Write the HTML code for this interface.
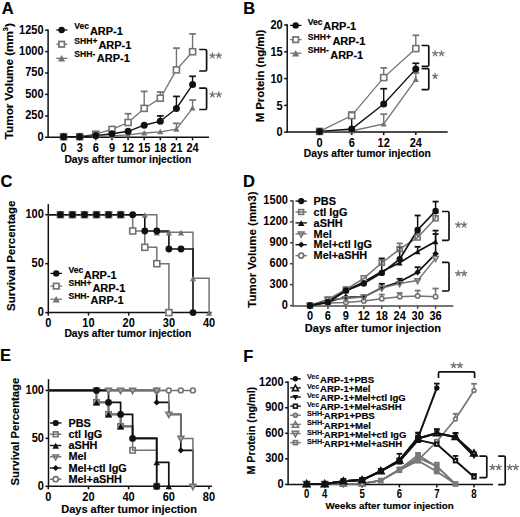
<!DOCTYPE html>
<html><head><meta charset="utf-8"><style>
html,body{margin:0;padding:0;background:#fff;}
svg{display:block;}
text{font-family:"Liberation Sans", sans-serif;}
</style></head><body>
<svg width="520" height="517" viewBox="0 0 520 517">
<rect width="520" height="517" fill="#fff"/>
<text transform="translate(1.70 13.80)" font-size="16.5" font-weight="bold" fill="#000" stroke="#000" stroke-width="0.15">A</text>
<line x1="48.1" y1="29.45" x2="48.1" y2="138.05" stroke="#111" stroke-width="1.5"/>
<line x1="45.1" y1="137.3" x2="48.1" y2="137.3" stroke="#111" stroke-width="1.5"/>
<text transform="translate(43.60 140.60) scale(0.92 1)" font-size="12" text-anchor="end" font-weight="bold" fill="#000">0</text>
<line x1="45.1" y1="116.0" x2="48.1" y2="116.0" stroke="#111" stroke-width="1.5"/>
<text transform="translate(43.60 119.30) scale(0.92 1)" font-size="12" text-anchor="end" font-weight="bold" fill="#000">250</text>
<line x1="45.1" y1="94.4" x2="48.1" y2="94.4" stroke="#111" stroke-width="1.5"/>
<text transform="translate(43.60 97.70) scale(0.92 1)" font-size="12" text-anchor="end" font-weight="bold" fill="#000">500</text>
<line x1="45.1" y1="73.0" x2="48.1" y2="73.0" stroke="#111" stroke-width="1.5"/>
<text transform="translate(43.60 76.30) scale(0.92 1)" font-size="12" text-anchor="end" font-weight="bold" fill="#000">750</text>
<line x1="45.1" y1="51.6" x2="48.1" y2="51.6" stroke="#111" stroke-width="1.5"/>
<text transform="translate(43.60 54.90) scale(0.92 1)" font-size="12" text-anchor="end" font-weight="bold" fill="#000">1000</text>
<line x1="45.1" y1="30.2" x2="48.1" y2="30.2" stroke="#111" stroke-width="1.5"/>
<text transform="translate(43.60 33.50) scale(0.92 1)" font-size="12" text-anchor="end" font-weight="bold" fill="#000">1250</text>
<line x1="48.1" y1="137.3" x2="209" y2="137.3" stroke="#111" stroke-width="1.5"/>
<line x1="63.6" y1="137.3" x2="63.6" y2="140.3" stroke="#111" stroke-width="1.5"/>
<text transform="translate(63.60 151.60) scale(0.92 1)" font-size="12" text-anchor="middle" font-weight="bold" fill="#000">0</text>
<line x1="79.72" y1="137.3" x2="79.72" y2="140.3" stroke="#111" stroke-width="1.5"/>
<text transform="translate(79.72 151.60) scale(0.92 1)" font-size="12" text-anchor="middle" font-weight="bold" fill="#000">3</text>
<line x1="95.84" y1="137.3" x2="95.84" y2="140.3" stroke="#111" stroke-width="1.5"/>
<text transform="translate(95.84 151.60) scale(0.92 1)" font-size="12" text-anchor="middle" font-weight="bold" fill="#000">6</text>
<line x1="111.96000000000001" y1="137.3" x2="111.96000000000001" y2="140.3" stroke="#111" stroke-width="1.5"/>
<text transform="translate(111.96 151.60) scale(0.92 1)" font-size="12" text-anchor="middle" font-weight="bold" fill="#000">9</text>
<line x1="128.08" y1="137.3" x2="128.08" y2="140.3" stroke="#111" stroke-width="1.5"/>
<text transform="translate(128.08 151.60) scale(0.92 1)" font-size="12" text-anchor="middle" font-weight="bold" fill="#000">12</text>
<line x1="144.20000000000002" y1="137.3" x2="144.20000000000002" y2="140.3" stroke="#111" stroke-width="1.5"/>
<text transform="translate(144.20 151.60) scale(0.92 1)" font-size="12" text-anchor="middle" font-weight="bold" fill="#000">15</text>
<line x1="160.32" y1="137.3" x2="160.32" y2="140.3" stroke="#111" stroke-width="1.5"/>
<text transform="translate(160.32 151.60) scale(0.92 1)" font-size="12" text-anchor="middle" font-weight="bold" fill="#000">18</text>
<line x1="176.44" y1="137.3" x2="176.44" y2="140.3" stroke="#111" stroke-width="1.5"/>
<text transform="translate(176.44 151.60) scale(0.92 1)" font-size="12" text-anchor="middle" font-weight="bold" fill="#000">21</text>
<line x1="192.56" y1="137.3" x2="192.56" y2="140.3" stroke="#111" stroke-width="1.5"/>
<text transform="translate(192.56 151.60) scale(0.92 1)" font-size="12" text-anchor="middle" font-weight="bold" fill="#000">24</text>
<text transform="translate(127.90 162.90)" font-size="10.3" text-anchor="middle" font-weight="bold" fill="#000" stroke="#000" stroke-width="0.15">Days after tumor injection</text>
<text transform="translate(12.90 81.10) rotate(-90)" font-size="11.7" text-anchor="middle" font-weight="bold" fill="#000" stroke="#000" stroke-width="0.15">Tumor Volume (mm<tspan font-size="7.5" dy="-5.2">3</tspan><tspan dy="5.2">)</tspan></text>
<line x1="128.08" y1="122.5" x2="128.08" y2="113.7" stroke="#737373" stroke-width="1.4"/>
<line x1="124.68" y1="113.7" x2="131.48000000000002" y2="113.7" stroke="#737373" stroke-width="1.7"/>
<line x1="144.20000000000002" y1="108.4" x2="144.20000000000002" y2="91.4" stroke="#737373" stroke-width="1.4"/>
<line x1="140.8" y1="91.4" x2="147.60000000000002" y2="91.4" stroke="#737373" stroke-width="1.7"/>
<line x1="160.32" y1="98.2" x2="160.32" y2="92.0" stroke="#737373" stroke-width="1.4"/>
<line x1="156.92" y1="92.0" x2="163.72" y2="92.0" stroke="#737373" stroke-width="1.7"/>
<line x1="176.44" y1="69.9" x2="176.44" y2="48.1" stroke="#737373" stroke-width="1.4"/>
<line x1="173.04" y1="48.1" x2="179.84" y2="48.1" stroke="#737373" stroke-width="1.7"/>
<line x1="192.56" y1="51.7" x2="192.56" y2="33.9" stroke="#737373" stroke-width="1.4"/>
<line x1="189.16" y1="33.9" x2="195.96" y2="33.9" stroke="#737373" stroke-width="1.7"/>
<line x1="176.44" y1="129.2" x2="176.44" y2="123.3" stroke="#737373" stroke-width="1.4"/>
<line x1="173.04" y1="123.3" x2="179.84" y2="123.3" stroke="#737373" stroke-width="1.7"/>
<line x1="192.56" y1="108.1" x2="192.56" y2="100.0" stroke="#737373" stroke-width="1.4"/>
<line x1="189.16" y1="100.0" x2="195.96" y2="100.0" stroke="#737373" stroke-width="1.7"/>
<line x1="160.32" y1="121.2" x2="160.32" y2="115.9" stroke="#111" stroke-width="1.4"/>
<line x1="156.92" y1="115.9" x2="163.72" y2="115.9" stroke="#111" stroke-width="1.7"/>
<line x1="176.44" y1="108.5" x2="176.44" y2="96.4" stroke="#111" stroke-width="1.4"/>
<line x1="173.04" y1="96.4" x2="179.84" y2="96.4" stroke="#111" stroke-width="1.7"/>
<line x1="192.56" y1="84.6" x2="192.56" y2="76.3" stroke="#111" stroke-width="1.4"/>
<line x1="189.16" y1="76.3" x2="195.96" y2="76.3" stroke="#111" stroke-width="1.7"/>
<polyline points="63.6,136.7 79.7,136.7 95.8,136.3 112.0,135.8 128.1,134.8 144.2,133.0 160.3,131.8 176.4,129.2 192.6,108.1" fill="none" stroke="#737373" stroke-width="1.3" stroke-linejoin="miter"/>
<polyline points="63.6,136.7 79.7,136.7 95.8,134.2 112.0,129.4 128.1,122.5 144.2,108.4 160.3,98.2 176.4,69.9 192.6,51.7" fill="none" stroke="#737373" stroke-width="1.3" stroke-linejoin="miter"/>
<polyline points="63.6,136.7 79.7,136.7 95.8,135.6 112.0,133.8 128.1,131.3 144.2,125.2 160.3,121.2 176.4,108.5 192.6,84.6" fill="none" stroke="#111" stroke-width="1.4" stroke-linejoin="miter"/>
<rect x="60.6" y="133.7" width="6.0" height="6.0" fill="#777" stroke="#737373" stroke-width="1.6"/>
<rect x="76.7" y="133.7" width="6.0" height="6.0" fill="#777" stroke="#737373" stroke-width="1.6"/>
<rect x="92.8" y="131.2" width="6.0" height="6.0" fill="#fff" stroke="#737373" stroke-width="1.6"/>
<rect x="109.0" y="126.4" width="6.0" height="6.0" fill="#fff" stroke="#737373" stroke-width="1.6"/>
<rect x="125.1" y="119.5" width="6.0" height="6.0" fill="#fff" stroke="#737373" stroke-width="1.6"/>
<rect x="141.2" y="105.4" width="6.0" height="6.0" fill="#fff" stroke="#737373" stroke-width="1.6"/>
<rect x="157.3" y="95.2" width="6.0" height="6.0" fill="#fff" stroke="#737373" stroke-width="1.6"/>
<rect x="173.4" y="66.9" width="6.0" height="6.0" fill="#fff" stroke="#737373" stroke-width="1.6"/>
<rect x="189.6" y="48.7" width="6.0" height="6.0" fill="#fff" stroke="#737373" stroke-width="1.6"/>
<polygon points="63.6,133.6 66.7,139.2 60.5,139.2" fill="#737373"/>
<polygon points="79.7,133.6 82.8,139.2 76.6,139.2" fill="#737373"/>
<polygon points="95.8,133.2 98.9,138.8 92.8,138.8" fill="#737373"/>
<polygon points="112.0,132.7 115.0,138.3 108.9,138.3" fill="#737373"/>
<polygon points="128.1,131.7 131.2,137.3 125.0,137.3" fill="#737373"/>
<polygon points="144.2,129.9 147.3,135.5 141.1,135.5" fill="#737373"/>
<polygon points="160.3,128.7 163.4,134.3 157.2,134.3" fill="#737373"/>
<polygon points="176.4,126.1 179.5,131.7 173.4,131.7" fill="#737373"/>
<polygon points="192.6,105.0 195.6,110.6 189.5,110.6" fill="#737373"/>
<circle cx="63.6" cy="136.7" r="3.5" fill="#111"/>
<circle cx="79.7" cy="136.7" r="3.5" fill="#111"/>
<circle cx="95.8" cy="135.6" r="3.5" fill="#111"/>
<circle cx="112.0" cy="133.8" r="3.5" fill="#111"/>
<circle cx="128.1" cy="131.3" r="3.5" fill="#111"/>
<circle cx="144.2" cy="125.2" r="3.5" fill="#111"/>
<circle cx="160.3" cy="121.2" r="3.5" fill="#111"/>
<circle cx="176.4" cy="108.5" r="3.5" fill="#111"/>
<circle cx="192.6" cy="84.6" r="3.5" fill="#111"/>
<path d="M199.2,49.5 H205.4 Q206.6,49.5 206.6,50.7 V69.8 Q206.6,71.0 205.4,71.0 H199.2" fill="none" stroke="#111" stroke-width="1.7"/>
<path d="M199.2,88.2 H205.4 Q206.6,88.2 206.6,89.4 V108.3 Q206.6,109.5 205.4,109.5 H199.2" fill="none" stroke="#111" stroke-width="1.7"/>
<path d="M212.40,55.70 L212.40,52.95 M212.40,55.70 L215.02,54.85 M212.40,55.70 L214.02,57.92 M212.40,55.70 L210.78,57.92 M212.40,55.70 L209.78,54.85 " stroke="#6e6e6e" stroke-width="1.25" fill="none" stroke-linecap="round"/>
<path d="M218.80,55.70 L218.80,52.95 M218.80,55.70 L221.42,54.85 M218.80,55.70 L220.42,57.92 M218.80,55.70 L217.18,57.92 M218.80,55.70 L216.18,54.85 " stroke="#6e6e6e" stroke-width="1.25" fill="none" stroke-linecap="round"/>
<path d="M212.40,94.60 L212.40,91.85 M212.40,94.60 L215.02,93.75 M212.40,94.60 L214.02,96.82 M212.40,94.60 L210.78,96.82 M212.40,94.60 L209.78,93.75 " stroke="#6e6e6e" stroke-width="1.25" fill="none" stroke-linecap="round"/>
<path d="M218.80,94.60 L218.80,91.85 M218.80,94.60 L221.42,93.75 M218.80,94.60 L220.42,96.82 M218.80,94.60 L217.18,96.82 M218.80,94.60 L216.18,93.75 " stroke="#6e6e6e" stroke-width="1.25" fill="none" stroke-linecap="round"/>
<line x1="56.3" y1="30.0" x2="67.4" y2="30.0" stroke="#111" stroke-width="1.3"/>
<circle cx="61.6" cy="30.0" r="3.2" fill="#111"/>
<line x1="56.3" y1="44.2" x2="67.4" y2="44.2" stroke="#737373" stroke-width="1.3"/>
<rect x="58.9" y="41.5" width="5.5" height="5.5" fill="#fff" stroke="#737373" stroke-width="1.7"/>
<line x1="56.3" y1="58.3" x2="67.4" y2="58.3" stroke="#737373" stroke-width="1.3"/>
<polygon points="61.6,55.1 65.2,61.6 58.0,61.6" fill="#737373"/>
<text transform="translate(74.30 29.30)" font-size="8.6" font-weight="bold" fill="#000" stroke="#000" stroke-width="0.15">Vec</text>
<text transform="translate(89.90 34.80)" font-size="11" font-weight="bold" fill="#000" stroke="#000" stroke-width="0.15">ARP-1</text>
<text transform="translate(74.30 43.50)" font-size="8.6" font-weight="bold" fill="#000" stroke="#000" stroke-width="0.15">SHH+</text>
<text transform="translate(98.40 48.70)" font-size="11" font-weight="bold" fill="#000" stroke="#000" stroke-width="0.15">ARP-1</text>
<text transform="translate(74.30 56.90)" font-size="8.6" font-weight="bold" fill="#000" stroke="#000" stroke-width="0.15">SHH-</text>
<text transform="translate(96.80 62.40)" font-size="11" font-weight="bold" fill="#000" stroke="#000" stroke-width="0.15">ARP-1</text>
<text transform="translate(243.20 13.70)" font-size="16.5" font-weight="bold" fill="#000" stroke="#000" stroke-width="0.15">B</text>
<line x1="287.2" y1="24.25" x2="287.2" y2="132.85" stroke="#111" stroke-width="1.5"/>
<line x1="284.2" y1="132.1" x2="287.2" y2="132.1" stroke="#111" stroke-width="1.5"/>
<text transform="translate(282.70 136.40) scale(0.92 1)" font-size="12" text-anchor="end" font-weight="bold" fill="#000">0</text>
<line x1="284.2" y1="105.4" x2="287.2" y2="105.4" stroke="#111" stroke-width="1.5"/>
<text transform="translate(282.70 109.70) scale(0.92 1)" font-size="12" text-anchor="end" font-weight="bold" fill="#000">5</text>
<line x1="284.2" y1="78.6" x2="287.2" y2="78.6" stroke="#111" stroke-width="1.5"/>
<text transform="translate(282.70 82.90) scale(0.92 1)" font-size="12" text-anchor="end" font-weight="bold" fill="#000">10</text>
<line x1="284.2" y1="51.8" x2="287.2" y2="51.8" stroke="#111" stroke-width="1.5"/>
<text transform="translate(282.70 56.10) scale(0.92 1)" font-size="12" text-anchor="end" font-weight="bold" fill="#000">15</text>
<line x1="284.2" y1="25.0" x2="287.2" y2="25.0" stroke="#111" stroke-width="1.5"/>
<text transform="translate(282.70 29.30) scale(0.92 1)" font-size="12" text-anchor="end" font-weight="bold" fill="#000">20</text>
<line x1="287.2" y1="132.1" x2="447.7" y2="132.1" stroke="#111" stroke-width="1.5"/>
<line x1="319.6" y1="132.1" x2="319.6" y2="135.1" stroke="#111" stroke-width="1.5"/>
<text transform="translate(319.60 146.60) scale(0.92 1)" font-size="12" text-anchor="middle" font-weight="bold" fill="#000">0</text>
<line x1="351.7" y1="132.1" x2="351.7" y2="135.1" stroke="#111" stroke-width="1.5"/>
<text transform="translate(351.70 146.60) scale(0.92 1)" font-size="12" text-anchor="middle" font-weight="bold" fill="#000">6</text>
<line x1="383.7" y1="132.1" x2="383.7" y2="135.1" stroke="#111" stroke-width="1.5"/>
<text transform="translate(383.70 146.60) scale(0.92 1)" font-size="12" text-anchor="middle" font-weight="bold" fill="#000">12</text>
<line x1="415.8" y1="132.1" x2="415.8" y2="135.1" stroke="#111" stroke-width="1.5"/>
<text transform="translate(415.80 146.60) scale(0.92 1)" font-size="12" text-anchor="middle" font-weight="bold" fill="#000">24</text>
<text transform="translate(367.30 157.00)" font-size="10.3" text-anchor="middle" font-weight="bold" fill="#000" stroke="#000" stroke-width="0.15">Days after tumor injection</text>
<text transform="translate(264.40 76.00) rotate(-90)" font-size="11.35" text-anchor="middle" font-weight="bold" fill="#000" stroke="#000" stroke-width="0.15">M Protein (ng/ml)</text>
<line x1="351.7" y1="115.6" x2="351.7" y2="112.0" stroke="#737373" stroke-width="1.4"/>
<line x1="348.3" y1="112.0" x2="355.09999999999997" y2="112.0" stroke="#737373" stroke-width="1.7"/>
<line x1="383.7" y1="77.6" x2="383.7" y2="67.9" stroke="#737373" stroke-width="1.4"/>
<line x1="380.3" y1="67.9" x2="387.09999999999997" y2="67.9" stroke="#737373" stroke-width="1.7"/>
<line x1="415.8" y1="48.6" x2="415.8" y2="35.3" stroke="#737373" stroke-width="1.4"/>
<line x1="412.40000000000003" y1="35.3" x2="419.2" y2="35.3" stroke="#737373" stroke-width="1.7"/>
<line x1="383.7" y1="124.0" x2="383.7" y2="114.2" stroke="#737373" stroke-width="1.4"/>
<line x1="380.3" y1="114.2" x2="387.09999999999997" y2="114.2" stroke="#737373" stroke-width="1.7"/>
<line x1="415.8" y1="79.6" x2="415.8" y2="73.0" stroke="#737373" stroke-width="1.4"/>
<line x1="412.40000000000003" y1="73.0" x2="419.2" y2="73.0" stroke="#737373" stroke-width="1.7"/>
<line x1="351.7" y1="129.0" x2="351.7" y2="116.5" stroke="#111" stroke-width="1.4"/>
<line x1="348.3" y1="116.5" x2="355.09999999999997" y2="116.5" stroke="#111" stroke-width="1.7"/>
<line x1="383.7" y1="104.0" x2="383.7" y2="88.7" stroke="#111" stroke-width="1.4"/>
<line x1="380.3" y1="88.7" x2="387.09999999999997" y2="88.7" stroke="#111" stroke-width="1.7"/>
<line x1="415.8" y1="69.1" x2="415.8" y2="63.3" stroke="#111" stroke-width="1.4"/>
<line x1="412.40000000000003" y1="63.3" x2="419.2" y2="63.3" stroke="#111" stroke-width="1.7"/>
<polyline points="319.6,131.4 351.7,131.0 383.7,124.0 415.8,79.6" fill="none" stroke="#737373" stroke-width="1.3" stroke-linejoin="miter"/>
<polyline points="319.6,131.4 351.7,115.6 383.7,77.6 415.8,48.6" fill="none" stroke="#737373" stroke-width="1.3" stroke-linejoin="miter"/>
<polyline points="319.6,131.4 351.7,129.0 383.7,104.0 415.8,69.1" fill="none" stroke="#111" stroke-width="1.4" stroke-linejoin="miter"/>
<rect x="316.6" y="128.4" width="6.0" height="6.0" fill="#777" stroke="#737373" stroke-width="1.6"/>
<rect x="348.7" y="112.6" width="6.0" height="6.0" fill="#fff" stroke="#737373" stroke-width="1.6"/>
<rect x="380.7" y="74.6" width="6.0" height="6.0" fill="#fff" stroke="#737373" stroke-width="1.6"/>
<rect x="412.8" y="45.6" width="6.0" height="6.0" fill="#fff" stroke="#737373" stroke-width="1.6"/>
<polygon points="319.6,128.3 322.7,133.9 316.5,133.9" fill="#737373"/>
<polygon points="351.7,127.9 354.8,133.5 348.6,133.5" fill="#737373"/>
<polygon points="383.7,120.9 386.8,126.5 380.6,126.5" fill="#737373"/>
<polygon points="415.8,76.5 418.9,82.1 412.7,82.1" fill="#737373"/>
<circle cx="319.6" cy="131.4" r="3.5" fill="#111"/>
<circle cx="351.7" cy="129.0" r="3.5" fill="#111"/>
<circle cx="383.7" cy="104.0" r="3.5" fill="#111"/>
<circle cx="415.8" cy="69.1" r="3.5" fill="#111"/>
<path d="M421.6,45.5 H427.6 Q428.8,45.5 428.8,46.7 V65.1 Q428.8,66.3 427.6,66.3 H421.6" fill="none" stroke="#111" stroke-width="1.7"/>
<path d="M421.6,68.6 H427.6 Q428.8,68.6 428.8,69.8 V88.4 Q428.8,89.6 427.6,89.6 H421.6" fill="none" stroke="#111" stroke-width="1.7"/>
<path d="M435.10,53.50 L435.10,50.75 M435.10,53.50 L437.72,52.65 M435.10,53.50 L436.72,55.72 M435.10,53.50 L433.48,55.72 M435.10,53.50 L432.48,52.65 " stroke="#6e6e6e" stroke-width="1.25" fill="none" stroke-linecap="round"/>
<path d="M441.50,53.50 L441.50,50.75 M441.50,53.50 L444.12,52.65 M441.50,53.50 L443.12,55.72 M441.50,53.50 L439.88,55.72 M441.50,53.50 L438.88,52.65 " stroke="#6e6e6e" stroke-width="1.25" fill="none" stroke-linecap="round"/>
<path d="M435.10,76.10 L435.10,73.35 M435.10,76.10 L437.72,75.25 M435.10,76.10 L436.72,78.32 M435.10,76.10 L433.48,78.32 M435.10,76.10 L432.48,75.25 " stroke="#6e6e6e" stroke-width="1.25" fill="none" stroke-linecap="round"/>
<line x1="290.1" y1="25.4" x2="301.5" y2="25.4" stroke="#111" stroke-width="1.3"/>
<circle cx="295.7" cy="25.4" r="3.2" fill="#111"/>
<line x1="290.1" y1="39.6" x2="301.5" y2="39.6" stroke="#737373" stroke-width="1.3"/>
<rect x="292.9" y="36.9" width="5.5" height="5.5" fill="#fff" stroke="#737373" stroke-width="1.7"/>
<line x1="290.1" y1="53.2" x2="301.5" y2="53.2" stroke="#737373" stroke-width="1.3"/>
<polygon points="295.7,50.0 299.3,56.5 292.1,56.5" fill="#737373"/>
<text transform="translate(307.80 25.10)" font-size="8.6" font-weight="bold" fill="#000" stroke="#000" stroke-width="0.15">Vec</text>
<text transform="translate(323.20 30.40)" font-size="11" font-weight="bold" fill="#000" stroke="#000" stroke-width="0.15">ARP-1</text>
<text transform="translate(307.80 39.90)" font-size="8.6" font-weight="bold" fill="#000" stroke="#000" stroke-width="0.15">SHH+</text>
<text transform="translate(332.40 44.80)" font-size="11" font-weight="bold" fill="#000" stroke="#000" stroke-width="0.15">ARP-1</text>
<text transform="translate(307.80 53.40)" font-size="8.6" font-weight="bold" fill="#000" stroke="#000" stroke-width="0.15">SHH-</text>
<text transform="translate(330.20 58.50)" font-size="11" font-weight="bold" fill="#000" stroke="#000" stroke-width="0.15">ARP-1</text>
<text transform="translate(0.40 186.70)" font-size="16.5" font-weight="bold" fill="#000" stroke="#000" stroke-width="0.15">C</text>
<line x1="48.3" y1="204.15" x2="48.3" y2="313.35" stroke="#111" stroke-width="1.5"/>
<line x1="45.3" y1="312.6" x2="48.3" y2="312.6" stroke="#111" stroke-width="1.5"/>
<text transform="translate(43.80 315.90) scale(0.92 1)" font-size="12" text-anchor="end" font-weight="bold" fill="#000">0</text>
<line x1="45.3" y1="263.7" x2="48.3" y2="263.7" stroke="#111" stroke-width="1.5"/>
<text transform="translate(43.80 267.00) scale(0.92 1)" font-size="12" text-anchor="end" font-weight="bold" fill="#000">50</text>
<line x1="45.3" y1="214.7" x2="48.3" y2="214.7" stroke="#111" stroke-width="1.5"/>
<text transform="translate(43.80 218.00) scale(0.92 1)" font-size="12" text-anchor="end" font-weight="bold" fill="#000">100</text>
<line x1="48.3" y1="312.6" x2="211.7" y2="312.6" stroke="#111" stroke-width="1.5"/>
<line x1="48.3" y1="312.6" x2="48.3" y2="315.6" stroke="#111" stroke-width="1.5"/>
<text transform="translate(48.30 327.20) scale(0.92 1)" font-size="12" text-anchor="middle" font-weight="bold" fill="#000">0</text>
<line x1="88.5" y1="312.6" x2="88.5" y2="315.6" stroke="#111" stroke-width="1.5"/>
<text transform="translate(88.50 327.20) scale(0.92 1)" font-size="12" text-anchor="middle" font-weight="bold" fill="#000">10</text>
<line x1="128.7" y1="312.6" x2="128.7" y2="315.6" stroke="#111" stroke-width="1.5"/>
<text transform="translate(128.70 327.20) scale(0.92 1)" font-size="12" text-anchor="middle" font-weight="bold" fill="#000">20</text>
<line x1="168.89999999999998" y1="312.6" x2="168.89999999999998" y2="315.6" stroke="#111" stroke-width="1.5"/>
<text transform="translate(168.90 327.20) scale(0.92 1)" font-size="12" text-anchor="middle" font-weight="bold" fill="#000">30</text>
<line x1="209.09999999999997" y1="312.6" x2="209.09999999999997" y2="315.6" stroke="#111" stroke-width="1.5"/>
<text transform="translate(209.10 327.20) scale(0.92 1)" font-size="12" text-anchor="middle" font-weight="bold" fill="#000">40</text>
<text transform="translate(127.90 336.60)" font-size="10.3" text-anchor="middle" font-weight="bold" fill="#000" stroke="#000" stroke-width="0.15">Days after tumor injection</text>
<text transform="translate(15.00 255.80) rotate(-90)" font-size="11.55" text-anchor="middle" font-weight="bold" fill="#000" stroke="#000" stroke-width="0.15">Survival Percentage</text>
<polyline points="48.3,214.7 156.8,214.7 156.8,232.3 193.0,232.3 193.0,278.2 209.1,278.2 209.1,312.6" fill="none" stroke="#737373" stroke-width="1.5" stroke-linejoin="miter"/>
<polyline points="48.3,214.7 132.7,214.7 132.7,231.0 144.8,231.0 144.8,247.3 156.8,247.3 156.8,263.7 168.9,263.7 168.9,312.6" fill="none" stroke="#737373" stroke-width="1.5" stroke-linejoin="miter"/>
<polyline points="48.3,214.7 144.8,214.7 144.8,231.0 168.9,231.0 168.9,249.0 193.0,249.0 193.0,312.6" fill="none" stroke="#111" stroke-width="1.6" stroke-linejoin="miter"/>
<rect x="57.4" y="211.7" width="6.0" height="6.0" fill="#fff" stroke="#737373" stroke-width="1.6"/>
<rect x="69.4" y="211.7" width="6.0" height="6.0" fill="#fff" stroke="#737373" stroke-width="1.6"/>
<rect x="81.5" y="211.7" width="6.0" height="6.0" fill="#fff" stroke="#737373" stroke-width="1.6"/>
<rect x="93.5" y="211.7" width="6.0" height="6.0" fill="#fff" stroke="#737373" stroke-width="1.6"/>
<rect x="105.6" y="211.7" width="6.0" height="6.0" fill="#fff" stroke="#737373" stroke-width="1.6"/>
<rect x="117.7" y="211.7" width="6.0" height="6.0" fill="#fff" stroke="#737373" stroke-width="1.6"/>
<rect x="129.7" y="228.0" width="6.0" height="6.0" fill="#fff" stroke="#737373" stroke-width="1.6"/>
<rect x="141.8" y="244.3" width="6.0" height="6.0" fill="#fff" stroke="#737373" stroke-width="1.6"/>
<rect x="153.8" y="260.7" width="6.0" height="6.0" fill="#fff" stroke="#737373" stroke-width="1.6"/>
<rect x="165.9" y="309.6" width="6.0" height="6.0" fill="#fff" stroke="#737373" stroke-width="1.6"/>
<polygon points="144.8,212.2 147.9,217.8 141.7,217.8" fill="#737373"/>
<polygon points="156.8,229.8 159.9,235.4 153.8,235.4" fill="#737373"/>
<polygon points="168.9,229.8 172.0,235.4 165.8,235.4" fill="#737373"/>
<polygon points="181.0,229.8 184.0,235.4 177.9,235.4" fill="#737373"/>
<polygon points="193.0,275.7 196.1,281.3 189.9,281.3" fill="#737373"/>
<polygon points="209.1,310.1 212.2,315.7 206.0,315.7" fill="#737373"/>
<circle cx="60.4" cy="214.7" r="3.4" fill="#111"/>
<circle cx="72.4" cy="214.7" r="3.4" fill="#111"/>
<circle cx="84.5" cy="214.7" r="3.4" fill="#111"/>
<circle cx="96.5" cy="214.7" r="3.4" fill="#111"/>
<circle cx="108.6" cy="214.7" r="3.4" fill="#111"/>
<circle cx="120.7" cy="214.7" r="3.4" fill="#111"/>
<circle cx="132.7" cy="214.7" r="3.4" fill="#111"/>
<circle cx="144.8" cy="231.0" r="3.4" fill="#111"/>
<circle cx="156.8" cy="231.0" r="3.4" fill="#111"/>
<circle cx="168.9" cy="249.0" r="3.4" fill="#111"/>
<circle cx="181.0" cy="249.0" r="3.4" fill="#111"/>
<circle cx="193.0" cy="312.6" r="3.4" fill="#111"/>
<line x1="50.4" y1="273.4" x2="62.0" y2="273.4" stroke="#111" stroke-width="1.3"/>
<circle cx="56.2" cy="273.4" r="3.2" fill="#111"/>
<line x1="50.4" y1="286.2" x2="62.0" y2="286.2" stroke="#737373" stroke-width="1.3"/>
<rect x="53.5" y="283.4" width="5.5" height="5.5" fill="#fff" stroke="#737373" stroke-width="1.7"/>
<line x1="50.4" y1="299.2" x2="62.0" y2="299.2" stroke="#737373" stroke-width="1.3"/>
<polygon points="56.2,296.0 59.8,302.5 52.6,302.5" fill="#737373"/>
<text transform="translate(68.40 273.20)" font-size="8.6" font-weight="bold" fill="#000" stroke="#000" stroke-width="0.15">Vec</text>
<text transform="translate(83.70 278.80)" font-size="11" font-weight="bold" fill="#000" stroke="#000" stroke-width="0.15">ARP-1</text>
<text transform="translate(68.40 286.40)" font-size="8.6" font-weight="bold" fill="#000" stroke="#000" stroke-width="0.15">SHH+</text>
<text transform="translate(92.40 291.80)" font-size="11" font-weight="bold" fill="#000" stroke="#000" stroke-width="0.15">ARP-1</text>
<text transform="translate(68.40 299.00)" font-size="8.6" font-weight="bold" fill="#000" stroke="#000" stroke-width="0.15">SHH-</text>
<text transform="translate(90.60 304.00)" font-size="11" font-weight="bold" fill="#000" stroke="#000" stroke-width="0.15">ARP-1</text>
<text transform="translate(243.10 186.70)" font-size="16.5" font-weight="bold" fill="#000" stroke="#000" stroke-width="0.15">D</text>
<line x1="293.0" y1="200.15" x2="293.0" y2="306.65" stroke="#4a4a4a" stroke-width="1.5"/>
<line x1="290.0" y1="305.6" x2="293.0" y2="305.6" stroke="#4a4a4a" stroke-width="1.5"/>
<text transform="translate(287.90 308.90) scale(0.92 1)" font-size="12" text-anchor="end" font-weight="bold" fill="#000">0</text>
<line x1="290.0" y1="284.66" x2="293.0" y2="284.66" stroke="#4a4a4a" stroke-width="1.5"/>
<text transform="translate(287.90 287.96) scale(0.92 1)" font-size="12" text-anchor="end" font-weight="bold" fill="#000">300</text>
<line x1="290.0" y1="263.72" x2="293.0" y2="263.72" stroke="#4a4a4a" stroke-width="1.5"/>
<text transform="translate(287.90 267.02) scale(0.92 1)" font-size="12" text-anchor="end" font-weight="bold" fill="#000">600</text>
<line x1="290.0" y1="242.78000000000003" x2="293.0" y2="242.78000000000003" stroke="#4a4a4a" stroke-width="1.5"/>
<text transform="translate(287.90 246.08) scale(0.92 1)" font-size="12" text-anchor="end" font-weight="bold" fill="#000">900</text>
<line x1="290.0" y1="221.84000000000003" x2="293.0" y2="221.84000000000003" stroke="#4a4a4a" stroke-width="1.5"/>
<text transform="translate(287.90 225.14) scale(0.92 1)" font-size="12" text-anchor="end" font-weight="bold" fill="#000">1200</text>
<line x1="290.0" y1="200.90000000000003" x2="293.0" y2="200.90000000000003" stroke="#4a4a4a" stroke-width="1.5"/>
<text transform="translate(287.90 204.20) scale(0.92 1)" font-size="12" text-anchor="end" font-weight="bold" fill="#000">1500</text>
<line x1="293.0" y1="305.9" x2="453.3" y2="305.9" stroke="#4a4a4a" stroke-width="1.5"/>
<line x1="310.0" y1="305.9" x2="310.0" y2="308.9" stroke="#4a4a4a" stroke-width="1.5"/>
<text transform="translate(310.00 319.80) scale(0.92 1)" font-size="12" text-anchor="middle" font-weight="bold" fill="#000">0</text>
<line x1="327.94" y1="305.9" x2="327.94" y2="308.9" stroke="#4a4a4a" stroke-width="1.5"/>
<text transform="translate(327.94 319.80) scale(0.92 1)" font-size="12" text-anchor="middle" font-weight="bold" fill="#000">6</text>
<line x1="345.88" y1="305.9" x2="345.88" y2="308.9" stroke="#4a4a4a" stroke-width="1.5"/>
<text transform="translate(345.88 319.80) scale(0.92 1)" font-size="12" text-anchor="middle" font-weight="bold" fill="#000">9</text>
<line x1="363.82" y1="305.9" x2="363.82" y2="308.9" stroke="#4a4a4a" stroke-width="1.5"/>
<text transform="translate(363.82 319.80) scale(0.92 1)" font-size="12" text-anchor="middle" font-weight="bold" fill="#000">12</text>
<line x1="381.76" y1="305.9" x2="381.76" y2="308.9" stroke="#4a4a4a" stroke-width="1.5"/>
<text transform="translate(381.76 319.80) scale(0.92 1)" font-size="12" text-anchor="middle" font-weight="bold" fill="#000">18</text>
<line x1="399.7" y1="305.9" x2="399.7" y2="308.9" stroke="#4a4a4a" stroke-width="1.5"/>
<text transform="translate(399.70 319.80) scale(0.92 1)" font-size="12" text-anchor="middle" font-weight="bold" fill="#000">24</text>
<line x1="417.64" y1="305.9" x2="417.64" y2="308.9" stroke="#4a4a4a" stroke-width="1.5"/>
<text transform="translate(417.64 319.80) scale(0.92 1)" font-size="12" text-anchor="middle" font-weight="bold" fill="#000">30</text>
<line x1="435.58000000000004" y1="305.9" x2="435.58000000000004" y2="308.9" stroke="#4a4a4a" stroke-width="1.5"/>
<text transform="translate(435.58 319.80) scale(0.92 1)" font-size="12" text-anchor="middle" font-weight="bold" fill="#000">36</text>
<text transform="translate(372.90 332.00)" font-size="11.05" text-anchor="middle" font-weight="bold" fill="#000" stroke="#000" stroke-width="0.15">Days after tumor injection</text>
<text transform="translate(255.90 249.60) rotate(-90)" font-size="11.47" text-anchor="middle" font-weight="bold" fill="#000" stroke="#000" stroke-width="0.15">Tumor Volume (mm3)</text>
<line x1="381.76" y1="298.7" x2="381.76" y2="294.6" stroke="#737373" stroke-width="1.5"/>
<line x1="378.76" y1="294.6" x2="384.76" y2="294.6" stroke="#737373" stroke-width="1.8"/>
<line x1="399.7" y1="296.7" x2="399.7" y2="293.0" stroke="#737373" stroke-width="1.5"/>
<line x1="396.7" y1="293.0" x2="402.7" y2="293.0" stroke="#737373" stroke-width="1.8"/>
<line x1="417.64" y1="296.1" x2="417.64" y2="290.6" stroke="#737373" stroke-width="1.5"/>
<line x1="414.64" y1="290.6" x2="420.64" y2="290.6" stroke="#737373" stroke-width="1.8"/>
<line x1="435.58000000000004" y1="296.7" x2="435.58000000000004" y2="288.5" stroke="#737373" stroke-width="1.5"/>
<line x1="432.58000000000004" y1="288.5" x2="438.58000000000004" y2="288.5" stroke="#737373" stroke-width="1.8"/>
<line x1="381.76" y1="262.8" x2="381.76" y2="258.7" stroke="#737373" stroke-width="1.5"/>
<line x1="378.76" y1="258.7" x2="384.76" y2="258.7" stroke="#737373" stroke-width="1.8"/>
<line x1="399.7" y1="249.2" x2="399.7" y2="243.4" stroke="#737373" stroke-width="1.5"/>
<line x1="396.7" y1="243.4" x2="402.7" y2="243.4" stroke="#737373" stroke-width="1.8"/>
<line x1="417.64" y1="237.5" x2="417.64" y2="233.0" stroke="#737373" stroke-width="1.5"/>
<line x1="414.64" y1="233.0" x2="420.64" y2="233.0" stroke="#737373" stroke-width="1.8"/>
<line x1="435.58000000000004" y1="218.3" x2="435.58000000000004" y2="213.0" stroke="#737373" stroke-width="1.5"/>
<line x1="432.58000000000004" y1="213.0" x2="438.58000000000004" y2="213.0" stroke="#737373" stroke-width="1.8"/>
<line x1="381.76" y1="287.8" x2="381.76" y2="283.8" stroke="#111" stroke-width="1.5"/>
<line x1="378.76" y1="283.8" x2="384.76" y2="283.8" stroke="#111" stroke-width="1.8"/>
<line x1="399.7" y1="281.7" x2="399.7" y2="278.8" stroke="#111" stroke-width="1.5"/>
<line x1="396.7" y1="278.8" x2="402.7" y2="278.8" stroke="#111" stroke-width="1.8"/>
<line x1="417.64" y1="272.3" x2="417.64" y2="267.2" stroke="#111" stroke-width="1.5"/>
<line x1="414.64" y1="267.2" x2="420.64" y2="267.2" stroke="#111" stroke-width="1.8"/>
<line x1="435.58000000000004" y1="253.8" x2="435.58000000000004" y2="234.0" stroke="#111" stroke-width="1.5"/>
<line x1="432.58000000000004" y1="234.0" x2="438.58000000000004" y2="234.0" stroke="#111" stroke-width="1.8"/>
<line x1="417.64" y1="251.6" x2="417.64" y2="246.8" stroke="#111" stroke-width="1.5"/>
<line x1="414.64" y1="246.8" x2="420.64" y2="246.8" stroke="#111" stroke-width="1.8"/>
<line x1="435.58000000000004" y1="241.5" x2="435.58000000000004" y2="230.6" stroke="#111" stroke-width="1.5"/>
<line x1="432.58000000000004" y1="230.6" x2="438.58000000000004" y2="230.6" stroke="#111" stroke-width="1.8"/>
<line x1="345.88" y1="290.6" x2="345.88" y2="287.7" stroke="#111" stroke-width="1.5"/>
<line x1="342.88" y1="287.7" x2="348.88" y2="287.7" stroke="#111" stroke-width="1.8"/>
<line x1="381.76" y1="272.9" x2="381.76" y2="258.5" stroke="#111" stroke-width="1.5"/>
<line x1="378.76" y1="258.5" x2="384.76" y2="258.5" stroke="#111" stroke-width="1.8"/>
<line x1="399.7" y1="259.1" x2="399.7" y2="247.0" stroke="#111" stroke-width="1.5"/>
<line x1="396.7" y1="247.0" x2="402.7" y2="247.0" stroke="#111" stroke-width="1.8"/>
<line x1="417.64" y1="230.0" x2="417.64" y2="215.5" stroke="#111" stroke-width="1.5"/>
<line x1="414.64" y1="215.5" x2="420.64" y2="215.5" stroke="#111" stroke-width="1.8"/>
<line x1="435.58000000000004" y1="211.0" x2="435.58000000000004" y2="201.6" stroke="#111" stroke-width="1.5"/>
<line x1="432.58000000000004" y1="201.6" x2="438.58000000000004" y2="201.6" stroke="#111" stroke-width="1.8"/>
<polyline points="310.0,305.5 327.9,303.0 345.9,302.4 363.8,301.0 381.8,298.7 399.7,296.7 417.6,296.1 435.6,296.7" fill="none" stroke="#737373" stroke-width="1.5" stroke-linejoin="miter"/>
<polyline points="310.0,305.5 327.9,299.5 345.9,289.5 363.8,278.3 381.8,262.8 399.7,249.2 417.6,237.5 435.6,218.3" fill="none" stroke="#737373" stroke-width="1.5" stroke-linejoin="miter"/>
<polyline points="310.0,305.5 327.9,302.0 345.9,297.0 363.8,297.0 381.8,287.8 399.7,281.7 417.6,272.3 435.6,253.8" fill="none" stroke="#111" stroke-width="1.7" stroke-linejoin="miter"/>
<polyline points="310.0,305.5 327.9,299.5 345.9,298.6 363.8,296.9 381.8,288.1 399.7,283.6 417.6,280.6 435.6,258.4" fill="none" stroke="#737373" stroke-width="1.5" stroke-linejoin="miter"/>
<polyline points="310.0,305.5 327.9,302.0 345.9,290.8 363.8,282.0 381.8,271.5 399.7,262.8 417.6,251.6 435.6,241.5" fill="none" stroke="#111" stroke-width="1.7" stroke-linejoin="miter"/>
<polyline points="310.0,305.5 327.9,302.1 345.9,290.6 363.8,283.6 381.8,272.9 399.7,259.1 417.6,230.0 435.6,211.0" fill="none" stroke="#111" stroke-width="1.7" stroke-linejoin="miter"/>
<circle cx="310.0" cy="305.5" r="2.2" fill="#fff" stroke="#737373" stroke-width="1.6"/>
<circle cx="327.9" cy="303.0" r="2.2" fill="#fff" stroke="#737373" stroke-width="1.6"/>
<circle cx="345.9" cy="302.4" r="2.2" fill="#fff" stroke="#737373" stroke-width="1.6"/>
<circle cx="363.8" cy="301.0" r="2.2" fill="#fff" stroke="#737373" stroke-width="1.6"/>
<circle cx="381.8" cy="298.7" r="2.2" fill="#fff" stroke="#737373" stroke-width="1.6"/>
<circle cx="399.7" cy="296.7" r="2.2" fill="#fff" stroke="#737373" stroke-width="1.6"/>
<circle cx="417.6" cy="296.1" r="2.2" fill="#fff" stroke="#737373" stroke-width="1.6"/>
<circle cx="435.6" cy="296.7" r="2.2" fill="#fff" stroke="#737373" stroke-width="1.6"/>
<rect x="307.5" y="303.0" width="5.0" height="5.0" fill="none" stroke="#737373" stroke-width="1.6"/>
<rect x="325.4" y="297.0" width="5.0" height="5.0" fill="none" stroke="#737373" stroke-width="1.6"/>
<rect x="343.4" y="287.0" width="5.0" height="5.0" fill="none" stroke="#737373" stroke-width="1.6"/>
<rect x="361.3" y="275.8" width="5.0" height="5.0" fill="none" stroke="#737373" stroke-width="1.6"/>
<rect x="379.3" y="260.3" width="5.0" height="5.0" fill="none" stroke="#737373" stroke-width="1.6"/>
<rect x="397.2" y="246.7" width="5.0" height="5.0" fill="none" stroke="#737373" stroke-width="1.6"/>
<rect x="415.1" y="235.0" width="5.0" height="5.0" fill="none" stroke="#737373" stroke-width="1.6"/>
<rect x="433.1" y="215.8" width="5.0" height="5.0" fill="none" stroke="#737373" stroke-width="1.6"/>
<polygon points="310.0,302.3 313.2,305.5 310.0,308.7 306.8,305.5" fill="#111"/>
<polygon points="327.9,298.8 331.1,302.0 327.9,305.2 324.7,302.0" fill="#111"/>
<polygon points="345.9,293.8 349.1,297.0 345.9,300.2 342.7,297.0" fill="#111"/>
<polygon points="363.8,293.8 367.0,297.0 363.8,300.2 360.6,297.0" fill="#111"/>
<polygon points="381.8,284.6 385.0,287.8 381.8,291.0 378.6,287.8" fill="#111"/>
<polygon points="399.7,278.5 402.9,281.7 399.7,284.9 396.5,281.7" fill="#111"/>
<polygon points="417.6,269.1 420.8,272.3 417.6,275.5 414.4,272.3" fill="#111"/>
<polygon points="435.6,250.6 438.8,253.8 435.6,257.0 432.4,253.8" fill="#111"/>
<polygon points="310.0,308.6 312.8,303.6 307.2,303.6" fill="none" stroke="#737373" stroke-width="1.5" stroke-linejoin="miter"/>
<polygon points="327.9,302.6 330.7,297.6 325.2,297.6" fill="none" stroke="#737373" stroke-width="1.5" stroke-linejoin="miter"/>
<polygon points="345.9,301.7 348.6,296.7 343.1,296.7" fill="none" stroke="#737373" stroke-width="1.5" stroke-linejoin="miter"/>
<polygon points="363.8,299.9 366.6,295.0 361.1,295.0" fill="none" stroke="#737373" stroke-width="1.5" stroke-linejoin="miter"/>
<polygon points="381.8,291.2 384.5,286.2 379.0,286.2" fill="none" stroke="#737373" stroke-width="1.5" stroke-linejoin="miter"/>
<polygon points="399.7,286.7 402.4,281.7 396.9,281.7" fill="none" stroke="#737373" stroke-width="1.5" stroke-linejoin="miter"/>
<polygon points="417.6,283.7 420.4,278.7 414.9,278.7" fill="none" stroke="#737373" stroke-width="1.5" stroke-linejoin="miter"/>
<polygon points="435.6,261.4 438.3,256.5 432.8,256.5" fill="none" stroke="#737373" stroke-width="1.5" stroke-linejoin="miter"/>
<polygon points="310.0,303.0 312.9,308.2 307.1,308.2" fill="#111"/>
<polygon points="327.9,299.5 330.8,304.7 325.1,304.7" fill="#111"/>
<polygon points="345.9,288.3 348.7,293.5 343.0,293.5" fill="#111"/>
<polygon points="363.8,279.5 366.7,284.7 361.0,284.7" fill="#111"/>
<polygon points="381.8,269.0 384.6,274.2 378.9,274.2" fill="#111"/>
<polygon points="399.7,260.3 402.6,265.5 396.8,265.5" fill="#111"/>
<polygon points="417.6,249.1 420.5,254.3 414.8,254.3" fill="#111"/>
<polygon points="435.6,239.0 438.4,244.2 432.7,244.2" fill="#111"/>
<circle cx="310.0" cy="305.5" r="3.2" fill="#111"/>
<circle cx="327.9" cy="302.1" r="3.2" fill="#111"/>
<circle cx="345.9" cy="290.6" r="3.2" fill="#111"/>
<circle cx="363.8" cy="283.6" r="3.2" fill="#111"/>
<circle cx="381.8" cy="272.9" r="3.2" fill="#111"/>
<circle cx="399.7" cy="259.1" r="3.2" fill="#111"/>
<circle cx="417.6" cy="230.0" r="3.2" fill="#111"/>
<circle cx="435.6" cy="211.0" r="3.2" fill="#111"/>
<path d="M442.0,211.5 H447.8 Q449.0,211.5 449.0,212.7 V239.1 Q449.0,240.3 447.8,240.3 H442.0" fill="none" stroke="#111" stroke-width="1.7"/>
<path d="M442.0,262.3 H447.8 Q449.0,262.3 449.0,263.5 V289.8 Q449.0,291.0 447.8,291.0 H442.0" fill="none" stroke="#111" stroke-width="1.7"/>
<path d="M458.20,224.80 L458.20,222.05 M458.20,224.80 L460.82,223.95 M458.20,224.80 L459.82,227.02 M458.20,224.80 L456.58,227.02 M458.20,224.80 L455.58,223.95 " stroke="#6e6e6e" stroke-width="1.25" fill="none" stroke-linecap="round"/>
<path d="M464.10,224.80 L464.10,222.05 M464.10,224.80 L466.72,223.95 M464.10,224.80 L465.72,227.02 M464.10,224.80 L462.48,227.02 M464.10,224.80 L461.48,223.95 " stroke="#6e6e6e" stroke-width="1.25" fill="none" stroke-linecap="round"/>
<path d="M458.20,273.40 L458.20,270.65 M458.20,273.40 L460.82,272.55 M458.20,273.40 L459.82,275.62 M458.20,273.40 L456.58,275.62 M458.20,273.40 L455.58,272.55 " stroke="#6e6e6e" stroke-width="1.25" fill="none" stroke-linecap="round"/>
<path d="M464.10,273.40 L464.10,270.65 M464.10,273.40 L466.72,272.55 M464.10,273.40 L465.72,275.62 M464.10,273.40 L462.48,275.62 M464.10,273.40 L461.48,272.55 " stroke="#6e6e6e" stroke-width="1.25" fill="none" stroke-linecap="round"/>
<line x1="295.5" y1="201.1" x2="306.8" y2="201.1" stroke="#111" stroke-width="1.4"/>
<circle cx="301.2" cy="201.1" r="3.1" fill="#111"/>
<text transform="translate(313.60 204.80)" font-size="10.9" font-weight="bold" fill="#000" stroke="#000" stroke-width="0.15">PBS</text>
<line x1="295.5" y1="212.0" x2="306.8" y2="212.0" stroke="#737373" stroke-width="1.4"/>
<rect x="298.8" y="209.6" width="4.8" height="4.8" fill="none" stroke="#737373" stroke-width="1.6"/>
<text transform="translate(313.60 215.70)" font-size="10.9" font-weight="bold" fill="#000" stroke="#000" stroke-width="0.15">ctl IgG</text>
<line x1="295.5" y1="222.9" x2="306.8" y2="222.9" stroke="#111" stroke-width="1.4"/>
<polygon points="301.2,220.2 304.5,226.1 297.9,226.1" fill="#111"/>
<text transform="translate(313.60 226.60)" font-size="10.9" font-weight="bold" fill="#000" stroke="#000" stroke-width="0.15">aSHH</text>
<line x1="295.5" y1="233.8" x2="306.8" y2="233.8" stroke="#737373" stroke-width="1.4"/>
<polygon points="301.2,237.1 304.1,231.9 298.3,231.9" fill="none" stroke="#737373" stroke-width="1.5" stroke-linejoin="miter"/>
<text transform="translate(313.60 237.50)" font-size="10.9" font-weight="bold" fill="#000" stroke="#000" stroke-width="0.15">Mel</text>
<line x1="295.5" y1="244.7" x2="306.8" y2="244.7" stroke="#111" stroke-width="1.4"/>
<polygon points="301.2,241.6 304.3,244.7 301.2,247.8 298.1,244.7" fill="#111"/>
<text transform="translate(313.60 248.40)" font-size="10.9" font-weight="bold" fill="#000" stroke="#000" stroke-width="0.15">Mel+ctl IgG</text>
<line x1="295.5" y1="255.6" x2="306.8" y2="255.6" stroke="#737373" stroke-width="1.4"/>
<circle cx="301.2" cy="255.6" r="2.55" fill="#fff" stroke="#737373" stroke-width="1.7"/>
<text transform="translate(313.60 259.30)" font-size="10.9" font-weight="bold" fill="#000" stroke="#000" stroke-width="0.15">Mel+aSHH</text>
<text transform="translate(0.10 360.70)" font-size="16.5" font-weight="bold" fill="#000" stroke="#000" stroke-width="0.15">E</text>
<line x1="48.5" y1="379.15" x2="48.5" y2="487.05" stroke="#111" stroke-width="1.5"/>
<line x1="45.5" y1="486.3" x2="48.5" y2="486.3" stroke="#111" stroke-width="1.5"/>
<text transform="translate(44.00 489.60) scale(0.92 1)" font-size="12" text-anchor="end" font-weight="bold" fill="#000">0</text>
<line x1="45.5" y1="438.35" x2="48.5" y2="438.35" stroke="#111" stroke-width="1.5"/>
<text transform="translate(44.00 441.65) scale(0.92 1)" font-size="12" text-anchor="end" font-weight="bold" fill="#000">50</text>
<line x1="45.5" y1="390.40000000000003" x2="48.5" y2="390.40000000000003" stroke="#111" stroke-width="1.5"/>
<text transform="translate(44.00 393.70) scale(0.92 1)" font-size="12" text-anchor="end" font-weight="bold" fill="#000">100</text>
<line x1="48.5" y1="486.3" x2="212.0" y2="486.3" stroke="#111" stroke-width="1.5"/>
<line x1="48.3" y1="486.3" x2="48.3" y2="489.3" stroke="#111" stroke-width="1.5"/>
<text transform="translate(48.30 500.80) scale(0.92 1)" font-size="12" text-anchor="middle" font-weight="bold" fill="#000">0</text>
<line x1="88.46" y1="486.3" x2="88.46" y2="489.3" stroke="#111" stroke-width="1.5"/>
<text transform="translate(88.46 500.80) scale(0.92 1)" font-size="12" text-anchor="middle" font-weight="bold" fill="#000">20</text>
<line x1="128.62" y1="486.3" x2="128.62" y2="489.3" stroke="#111" stroke-width="1.5"/>
<text transform="translate(128.62 500.80) scale(0.92 1)" font-size="12" text-anchor="middle" font-weight="bold" fill="#000">40</text>
<line x1="168.78" y1="486.3" x2="168.78" y2="489.3" stroke="#111" stroke-width="1.5"/>
<text transform="translate(168.78 500.80) scale(0.92 1)" font-size="12" text-anchor="middle" font-weight="bold" fill="#000">60</text>
<line x1="208.94" y1="486.3" x2="208.94" y2="489.3" stroke="#111" stroke-width="1.5"/>
<text transform="translate(208.94 500.80) scale(0.92 1)" font-size="12" text-anchor="middle" font-weight="bold" fill="#000">80</text>
<text transform="translate(129.10 513.00)" font-size="11.0" text-anchor="middle" font-weight="bold" fill="#000" stroke="#000" stroke-width="0.15">Days after tumor injection</text>
<text transform="translate(19.20 431.60) rotate(-90)" font-size="11.25" text-anchor="middle" font-weight="bold" fill="#000" stroke="#000" stroke-width="0.15">Survival Percentage</text>
<polyline points="48.3,390.4 192.9,390.4" fill="none" stroke="#737373" stroke-width="1.5" stroke-linejoin="miter"/>
<polyline points="48.3,390.4 96.5,390.4 96.5,402.4 108.5,402.4 108.5,414.4 120.6,414.4 120.6,426.4 132.6,426.4 132.6,438.4 156.7,438.4 156.7,462.3 168.8,462.3 168.8,486.3" fill="none" stroke="#111" stroke-width="1.7" stroke-linejoin="miter"/>
<polyline points="48.3,390.4 156.7,390.4 156.7,402.4 168.8,402.4 168.8,414.4 180.8,414.4 180.8,450.3 192.9,450.3 192.9,486.3" fill="none" stroke="#111" stroke-width="1.7" stroke-linejoin="miter"/>
<polyline points="48.3,390.4 96.5,390.4 96.5,402.4 108.5,402.4 108.5,414.4 120.6,414.4 120.6,426.4 132.6,426.4 132.6,450.3 156.7,450.3 156.7,486.3" fill="none" stroke="#737373" stroke-width="1.5" stroke-linejoin="miter"/>
<polyline points="48.3,390.4 168.8,390.4 168.8,414.4 180.8,414.4 180.8,438.4 192.9,438.4 192.9,486.3" fill="none" stroke="#737373" stroke-width="1.5" stroke-linejoin="miter"/>
<polyline points="48.3,390.4 108.5,390.4 108.5,402.4 120.6,402.4 120.6,414.4 132.6,414.4 132.6,438.4 156.7,438.4 156.7,486.3" fill="none" stroke="#111" stroke-width="1.7" stroke-linejoin="miter"/>
<circle cx="156.7" cy="390.4" r="2.4000000000000004" fill="#fff" stroke="#737373" stroke-width="1.6"/>
<circle cx="168.8" cy="390.4" r="2.4000000000000004" fill="#fff" stroke="#737373" stroke-width="1.6"/>
<circle cx="180.8" cy="390.4" r="2.4000000000000004" fill="#fff" stroke="#737373" stroke-width="1.6"/>
<circle cx="192.9" cy="390.4" r="2.4000000000000004" fill="#fff" stroke="#737373" stroke-width="1.6"/>
<polygon points="96.5,393.7 99.5,388.3 93.5,388.3" fill="#a8a8a8" stroke="#737373" stroke-width="1.5" stroke-linejoin="miter"/>
<polygon points="108.5,393.7 111.5,388.3 105.6,388.3" fill="#a8a8a8" stroke="#737373" stroke-width="1.5" stroke-linejoin="miter"/>
<polygon points="120.6,393.7 123.6,388.3 117.6,388.3" fill="#a8a8a8" stroke="#737373" stroke-width="1.5" stroke-linejoin="miter"/>
<polygon points="132.6,393.7 135.6,388.3 129.7,388.3" fill="#a8a8a8" stroke="#737373" stroke-width="1.5" stroke-linejoin="miter"/>
<polygon points="156.7,393.7 159.7,388.3 153.8,388.3" fill="#a8a8a8" stroke="#737373" stroke-width="1.5" stroke-linejoin="miter"/>
<polygon points="168.8,417.6 171.8,412.3 165.8,412.3" fill="#a8a8a8" stroke="#737373" stroke-width="1.5" stroke-linejoin="miter"/>
<polygon points="180.8,441.6 183.8,436.3 177.9,436.3" fill="#a8a8a8" stroke="#737373" stroke-width="1.5" stroke-linejoin="miter"/>
<polygon points="192.9,489.6 195.8,484.2 189.9,484.2" fill="#a8a8a8" stroke="#737373" stroke-width="1.5" stroke-linejoin="miter"/>
<rect x="93.8" y="399.7" width="5.4" height="5.4" fill="none" stroke="#737373" stroke-width="1.6"/>
<rect x="105.8" y="411.7" width="5.4" height="5.4" fill="none" stroke="#737373" stroke-width="1.6"/>
<rect x="117.9" y="423.7" width="5.4" height="5.4" fill="none" stroke="#737373" stroke-width="1.6"/>
<rect x="129.9" y="447.6" width="5.4" height="5.4" fill="none" stroke="#737373" stroke-width="1.6"/>
<rect x="154.0" y="483.6" width="5.4" height="5.4" fill="none" stroke="#737373" stroke-width="1.6"/>
<polygon points="96.5,399.6 99.7,405.3 93.3,405.3" fill="#111"/>
<polygon points="108.5,411.6 111.7,417.3 105.3,417.3" fill="#111"/>
<polygon points="120.6,423.6 123.8,429.3 117.4,429.3" fill="#111"/>
<polygon points="156.7,459.5 159.9,465.3 153.5,465.3" fill="#111"/>
<polygon points="168.8,483.5 172.0,489.3 165.6,489.3" fill="#111"/>
<polygon points="156.7,399.3 159.8,402.4 156.7,405.5 153.6,402.4" fill="#111"/>
<polygon points="180.8,447.2 183.9,450.3 180.8,453.4 177.7,450.3" fill="#111"/>
<circle cx="96.5" cy="390.4" r="3.4" fill="#111"/>
<circle cx="108.5" cy="402.4" r="3.4" fill="#111"/>
<circle cx="120.6" cy="414.4" r="3.4" fill="#111"/>
<circle cx="132.6" cy="438.4" r="3.4" fill="#111"/>
<circle cx="156.7" cy="486.3" r="3.4" fill="#111"/>
<line x1="50.0" y1="423.0" x2="61.4" y2="423.0" stroke="#111" stroke-width="1.4"/>
<circle cx="55.7" cy="423.0" r="3.1" fill="#111"/>
<text transform="translate(68.40 426.70)" font-size="10.9" font-weight="bold" fill="#000" stroke="#000" stroke-width="0.15">PBS</text>
<line x1="50.0" y1="434.25" x2="61.4" y2="434.25" stroke="#737373" stroke-width="1.4"/>
<rect x="53.3" y="431.9" width="4.8" height="4.8" fill="none" stroke="#737373" stroke-width="1.6"/>
<text transform="translate(68.40 437.95)" font-size="10.9" font-weight="bold" fill="#000" stroke="#000" stroke-width="0.15">ctl IgG</text>
<line x1="50.0" y1="445.5" x2="61.4" y2="445.5" stroke="#111" stroke-width="1.4"/>
<polygon points="55.7,442.8 59.0,448.7 52.4,448.7" fill="#111"/>
<text transform="translate(68.40 449.20)" font-size="10.9" font-weight="bold" fill="#000" stroke="#000" stroke-width="0.15">aSHH</text>
<line x1="50.0" y1="456.75" x2="61.4" y2="456.75" stroke="#737373" stroke-width="1.4"/>
<polygon points="55.7,460.0 58.6,454.9 52.8,454.9" fill="none" stroke="#737373" stroke-width="1.5" stroke-linejoin="miter"/>
<text transform="translate(68.40 460.45)" font-size="10.9" font-weight="bold" fill="#000" stroke="#000" stroke-width="0.15">Mel</text>
<line x1="50.0" y1="468.0" x2="61.4" y2="468.0" stroke="#111" stroke-width="1.4"/>
<polygon points="55.7,464.9 58.8,468.0 55.7,471.1 52.6,468.0" fill="#111"/>
<text transform="translate(68.40 471.70)" font-size="10.9" font-weight="bold" fill="#000" stroke="#000" stroke-width="0.15">Mel+ctl IgG</text>
<line x1="50.0" y1="479.25" x2="61.4" y2="479.25" stroke="#737373" stroke-width="1.4"/>
<circle cx="55.7" cy="479.2" r="2.55" fill="#fff" stroke="#737373" stroke-width="1.7"/>
<text transform="translate(68.40 482.95)" font-size="10.9" font-weight="bold" fill="#000" stroke="#000" stroke-width="0.15">Mel+aSHH</text>
<text transform="translate(243.20 362.40)" font-size="16.5" font-weight="bold" fill="#000" stroke="#000" stroke-width="0.15">F</text>
<line x1="288.1" y1="381.45" x2="288.1" y2="485.15" stroke="#111" stroke-width="1.5"/>
<line x1="285.1" y1="484.4" x2="288.1" y2="484.4" stroke="#111" stroke-width="1.5"/>
<text transform="translate(283.60 487.70) scale(0.92 1)" font-size="12" text-anchor="end" font-weight="bold" fill="#000">0</text>
<line x1="285.1" y1="458.849" x2="288.1" y2="458.849" stroke="#111" stroke-width="1.5"/>
<text transform="translate(283.60 462.15) scale(0.92 1)" font-size="12" text-anchor="end" font-weight="bold" fill="#000">300</text>
<line x1="285.1" y1="433.298" x2="288.1" y2="433.298" stroke="#111" stroke-width="1.5"/>
<text transform="translate(283.60 436.60) scale(0.92 1)" font-size="12" text-anchor="end" font-weight="bold" fill="#000">600</text>
<line x1="285.1" y1="407.74699999999996" x2="288.1" y2="407.74699999999996" stroke="#111" stroke-width="1.5"/>
<text transform="translate(283.60 411.05) scale(0.92 1)" font-size="12" text-anchor="end" font-weight="bold" fill="#000">900</text>
<line x1="285.1" y1="382.19599999999997" x2="288.1" y2="382.19599999999997" stroke="#111" stroke-width="1.5"/>
<text transform="translate(283.60 385.50) scale(0.92 1)" font-size="12" text-anchor="end" font-weight="bold" fill="#000">1200</text>
<line x1="288.1" y1="484.4" x2="493.0" y2="484.4" stroke="#111" stroke-width="1.5"/>
<line x1="306.6" y1="484.4" x2="306.6" y2="487.4" stroke="#111" stroke-width="1.5"/>
<text transform="translate(306.60 498.00) scale(0.8 1)" font-size="12" text-anchor="middle" font-weight="bold" fill="#000">0</text>
<line x1="324.7" y1="484.4" x2="324.7" y2="487.4" stroke="#111" stroke-width="1.5"/>
<text transform="translate(324.70 498.00) scale(0.8 1)" font-size="12" text-anchor="middle" font-weight="bold" fill="#000">4</text>
<line x1="362.1" y1="484.4" x2="362.1" y2="487.4" stroke="#111" stroke-width="1.5"/>
<text transform="translate(362.10 498.00) scale(0.8 1)" font-size="12" text-anchor="middle" font-weight="bold" fill="#000">5</text>
<line x1="399.4" y1="484.4" x2="399.4" y2="487.4" stroke="#111" stroke-width="1.5"/>
<text transform="translate(399.40 498.00) scale(0.8 1)" font-size="12" text-anchor="middle" font-weight="bold" fill="#000">6</text>
<line x1="436.8" y1="484.4" x2="436.8" y2="487.4" stroke="#111" stroke-width="1.5"/>
<text transform="translate(436.80 498.00) scale(0.8 1)" font-size="12" text-anchor="middle" font-weight="bold" fill="#000">7</text>
<line x1="474.0" y1="484.4" x2="474.0" y2="487.4" stroke="#111" stroke-width="1.5"/>
<text transform="translate(474.00 498.00) scale(0.8 1)" font-size="12" text-anchor="middle" font-weight="bold" fill="#000">8</text>
<text transform="translate(389.60 509.20)" font-size="9.8" text-anchor="middle" font-weight="bold" fill="#000" stroke="#000" stroke-width="0.15">Weeks after tumor injection</text>
<text transform="translate(255.10 430.70) rotate(-90)" font-size="10.75" text-anchor="middle" font-weight="bold" fill="#000" stroke="#000" stroke-width="0.15">M Protein (ng/ml)</text>
<line x1="436.8" y1="466.2" x2="436.8" y2="462.7" stroke="#737373" stroke-width="1.5"/>
<line x1="434.0" y1="462.7" x2="439.6" y2="462.7" stroke="#737373" stroke-width="1.8"/>
<line x1="418.1" y1="455.0" x2="418.1" y2="453.0" stroke="#737373" stroke-width="1.5"/>
<line x1="415.3" y1="453.0" x2="420.90000000000003" y2="453.0" stroke="#737373" stroke-width="1.8"/>
<line x1="455.5" y1="419.0" x2="455.5" y2="413.8" stroke="#737373" stroke-width="1.5"/>
<line x1="452.7" y1="413.8" x2="458.3" y2="413.8" stroke="#737373" stroke-width="1.8"/>
<line x1="474.0" y1="390.5" x2="474.0" y2="383.8" stroke="#737373" stroke-width="1.5"/>
<line x1="471.2" y1="383.8" x2="476.8" y2="383.8" stroke="#737373" stroke-width="1.8"/>
<line x1="436.8" y1="444.1" x2="436.8" y2="440.3" stroke="#111" stroke-width="1.5"/>
<line x1="434.0" y1="440.3" x2="439.6" y2="440.3" stroke="#111" stroke-width="1.8"/>
<line x1="455.5" y1="460.7" x2="455.5" y2="455.9" stroke="#111" stroke-width="1.5"/>
<line x1="452.7" y1="455.9" x2="458.3" y2="455.9" stroke="#111" stroke-width="1.8"/>
<line x1="474.0" y1="476.9" x2="474.0" y2="474.0" stroke="#111" stroke-width="1.5"/>
<line x1="471.2" y1="474.0" x2="476.8" y2="474.0" stroke="#111" stroke-width="1.8"/>
<line x1="418.1" y1="438.5" x2="418.1" y2="433.0" stroke="#111" stroke-width="1.5"/>
<line x1="415.3" y1="433.0" x2="420.90000000000003" y2="433.0" stroke="#111" stroke-width="1.8"/>
<line x1="436.8" y1="433.2" x2="436.8" y2="429.2" stroke="#111" stroke-width="1.5"/>
<line x1="434.0" y1="429.2" x2="439.6" y2="429.2" stroke="#111" stroke-width="1.8"/>
<line x1="455.5" y1="436.9" x2="455.5" y2="432.9" stroke="#111" stroke-width="1.5"/>
<line x1="452.7" y1="432.9" x2="458.3" y2="432.9" stroke="#111" stroke-width="1.8"/>
<line x1="436.8" y1="433.0" x2="436.8" y2="429.4" stroke="#111" stroke-width="1.5"/>
<line x1="434.0" y1="429.4" x2="439.6" y2="429.4" stroke="#111" stroke-width="1.8"/>
<line x1="455.5" y1="437.2" x2="455.5" y2="433.2" stroke="#111" stroke-width="1.5"/>
<line x1="452.7" y1="433.2" x2="458.3" y2="433.2" stroke="#111" stroke-width="1.8"/>
<line x1="474.0" y1="456.2" x2="474.0" y2="452.6" stroke="#111" stroke-width="1.5"/>
<line x1="471.2" y1="452.6" x2="476.8" y2="452.6" stroke="#111" stroke-width="1.8"/>
<line x1="399.4" y1="460.4" x2="399.4" y2="453.8" stroke="#111" stroke-width="1.5"/>
<line x1="396.59999999999997" y1="453.8" x2="402.2" y2="453.8" stroke="#111" stroke-width="1.8"/>
<line x1="418.1" y1="437.5" x2="418.1" y2="432.6" stroke="#111" stroke-width="1.5"/>
<line x1="415.3" y1="432.6" x2="420.90000000000003" y2="432.6" stroke="#111" stroke-width="1.8"/>
<line x1="436.8" y1="387.9" x2="436.8" y2="383.6" stroke="#111" stroke-width="1.5"/>
<line x1="434.0" y1="383.6" x2="439.6" y2="383.6" stroke="#111" stroke-width="1.8"/>
<polyline points="306.6,484.0 324.7,484.0 343.4,483.8 362.1,483.6 380.8,480.6 399.4,470.2 418.1,460.7 436.8,471.5 455.5,484.0" fill="none" stroke="#737373" stroke-width="1.6" stroke-linejoin="miter"/>
<polyline points="306.6,484.0 324.7,484.0 343.4,483.8 362.1,483.6 380.8,480.6 399.4,469.4 418.1,458.0 436.8,466.2 455.5,484.0" fill="none" stroke="#737373" stroke-width="1.6" stroke-linejoin="miter"/>
<polyline points="306.6,484.0 324.7,484.0 343.4,483.8 362.1,483.6 380.8,480.6 399.4,469.4 418.1,455.0 436.8,466.7 455.5,484.0" fill="none" stroke="#737373" stroke-width="1.6" stroke-linejoin="miter"/>
<polyline points="306.6,484.0 324.7,484.0 343.4,483.8 362.1,483.6 380.8,480.6 399.4,469.8 418.1,460.0 436.8,441.5 455.5,419.0 474.0,390.5" fill="none" stroke="#737373" stroke-width="1.6" stroke-linejoin="miter"/>
<polyline points="306.6,484.0 324.7,484.0 343.4,481.2 362.1,480.1 380.8,471.1 399.4,461.5 418.1,440.0 436.8,444.1 455.5,460.7 474.0,476.9" fill="none" stroke="#111" stroke-width="2.0" stroke-linejoin="miter"/>
<polyline points="306.6,484.0 324.7,484.0 343.4,481.2 362.1,480.1 380.8,471.1 399.4,460.4 418.1,438.5 436.8,433.2 455.5,436.9 474.0,453.4" fill="none" stroke="#111" stroke-width="2.0" stroke-linejoin="miter"/>
<polyline points="306.6,484.0 324.7,484.0 343.4,481.2 362.1,480.1 380.8,471.1 399.4,460.4 418.1,438.5 436.8,433.0 455.5,437.2 474.0,456.2" fill="none" stroke="#111" stroke-width="2.0" stroke-linejoin="miter"/>
<polyline points="306.6,484.0 324.7,484.0 343.4,481.2 362.1,480.1 380.8,471.1 399.4,460.4 418.1,437.5 436.8,387.9" fill="none" stroke="#111" stroke-width="2.0" stroke-linejoin="miter"/>
<rect x="377.9" y="477.7" width="5.8" height="5.8" fill="#7a7a7a"/>
<rect x="396.5" y="466.5" width="5.8" height="6.6" fill="#7a7a7a"/>
<rect x="415.2" y="452.1" width="5.8" height="11.5" fill="#7a7a7a"/>
<rect x="433.9" y="463.3" width="5.8" height="11.1" fill="#7a7a7a"/>
<rect x="452.6" y="481.1" width="5.8" height="5.8" fill="#7a7a7a"/>
<polygon points="306.6,487.0 309.6,481.6 303.6,481.6" fill="#fff" stroke="#737373" stroke-width="1.6" stroke-linejoin="miter"/>
<polygon points="324.7,487.0 327.7,481.6 321.7,481.6" fill="#fff" stroke="#737373" stroke-width="1.6" stroke-linejoin="miter"/>
<polygon points="343.4,486.8 346.4,481.4 340.4,481.4" fill="#fff" stroke="#737373" stroke-width="1.6" stroke-linejoin="miter"/>
<polygon points="362.1,486.6 365.1,481.2 359.1,481.2" fill="#fff" stroke="#737373" stroke-width="1.6" stroke-linejoin="miter"/>
<polygon points="306.6,481.0 309.6,486.4 303.6,486.4" fill="#fff" stroke="#737373" stroke-width="1.6" stroke-linejoin="miter"/>
<polygon points="324.7,481.0 327.7,486.4 321.7,486.4" fill="#fff" stroke="#737373" stroke-width="1.6" stroke-linejoin="miter"/>
<polygon points="343.4,480.8 346.4,486.2 340.4,486.2" fill="#fff" stroke="#737373" stroke-width="1.6" stroke-linejoin="miter"/>
<polygon points="362.1,480.6 365.1,486.0 359.1,486.0" fill="#fff" stroke="#737373" stroke-width="1.6" stroke-linejoin="miter"/>
<rect x="304.7" y="482.1" width="3.8" height="3.8" fill="#fff" stroke="#737373" stroke-width="1.6"/>
<rect x="322.8" y="482.1" width="3.8" height="3.8" fill="#fff" stroke="#737373" stroke-width="1.6"/>
<rect x="341.5" y="481.9" width="3.8" height="3.8" fill="#fff" stroke="#737373" stroke-width="1.6"/>
<rect x="360.2" y="481.7" width="3.8" height="3.8" fill="#fff" stroke="#737373" stroke-width="1.6"/>
<circle cx="306.6" cy="484.0" r="1.9000000000000001" fill="#fff" stroke="#737373" stroke-width="1.6"/>
<circle cx="324.7" cy="484.0" r="1.9000000000000001" fill="#fff" stroke="#737373" stroke-width="1.6"/>
<circle cx="343.4" cy="483.8" r="1.9000000000000001" fill="#fff" stroke="#737373" stroke-width="1.6"/>
<circle cx="362.1" cy="483.6" r="1.9000000000000001" fill="#fff" stroke="#737373" stroke-width="1.6"/>
<circle cx="436.8" cy="441.5" r="1.9000000000000001" fill="#fff" stroke="#737373" stroke-width="1.6"/>
<circle cx="455.5" cy="419.0" r="1.9000000000000001" fill="#fff" stroke="#737373" stroke-width="1.6"/>
<circle cx="474.0" cy="390.5" r="1.9000000000000001" fill="#fff" stroke="#737373" stroke-width="1.6"/>
<rect x="304.9" y="482.3" width="3.4" height="3.4" fill="#fff" stroke="#111" stroke-width="2.0"/>
<rect x="323.0" y="482.3" width="3.4" height="3.4" fill="#fff" stroke="#111" stroke-width="2.0"/>
<rect x="341.7" y="479.5" width="3.4" height="3.4" fill="#fff" stroke="#111" stroke-width="2.0"/>
<rect x="360.4" y="478.4" width="3.4" height="3.4" fill="#fff" stroke="#111" stroke-width="2.0"/>
<rect x="379.1" y="469.4" width="3.4" height="3.4" fill="#fff" stroke="#111" stroke-width="2.0"/>
<rect x="397.7" y="459.8" width="3.4" height="3.4" fill="#fff" stroke="#111" stroke-width="2.0"/>
<rect x="416.4" y="438.3" width="3.4" height="3.4" fill="#fff" stroke="#111" stroke-width="2.0"/>
<rect x="435.1" y="442.4" width="3.4" height="3.4" fill="#fff" stroke="#111" stroke-width="2.0"/>
<rect x="453.8" y="459.0" width="3.4" height="3.4" fill="#fff" stroke="#111" stroke-width="2.0"/>
<rect x="472.3" y="475.2" width="3.4" height="3.4" fill="#fff" stroke="#111" stroke-width="2.0"/>
<polygon points="306.6,481.0 309.6,486.4 303.6,486.4" fill="#fff" stroke="#111" stroke-width="2.0" stroke-linejoin="miter"/>
<polygon points="324.7,481.0 327.7,486.4 321.7,486.4" fill="#fff" stroke="#111" stroke-width="2.0" stroke-linejoin="miter"/>
<polygon points="343.4,478.2 346.4,483.6 340.4,483.6" fill="#fff" stroke="#111" stroke-width="2.0" stroke-linejoin="miter"/>
<polygon points="362.1,477.1 365.1,482.5 359.1,482.5" fill="#fff" stroke="#111" stroke-width="2.0" stroke-linejoin="miter"/>
<polygon points="380.8,468.1 383.8,473.5 377.8,473.5" fill="#fff" stroke="#111" stroke-width="2.0" stroke-linejoin="miter"/>
<polygon points="399.4,457.4 402.4,462.8 396.4,462.8" fill="#fff" stroke="#111" stroke-width="2.0" stroke-linejoin="miter"/>
<polygon points="418.1,435.5 421.1,440.9 415.1,440.9" fill="#fff" stroke="#111" stroke-width="2.0" stroke-linejoin="miter"/>
<polygon points="436.8,430.2 439.8,435.6 433.8,435.6" fill="#fff" stroke="#111" stroke-width="2.0" stroke-linejoin="miter"/>
<polygon points="455.5,433.9 458.5,439.3 452.5,439.3" fill="#fff" stroke="#111" stroke-width="2.0" stroke-linejoin="miter"/>
<polygon points="474.0,450.4 477.0,455.8 471.0,455.8" fill="#fff" stroke="#111" stroke-width="2.0" stroke-linejoin="miter"/>
<polygon points="306.6,487.0 309.6,481.6 303.6,481.6" fill="#111"/>
<polygon points="324.7,487.0 327.7,481.6 321.7,481.6" fill="#111"/>
<polygon points="343.4,484.2 346.4,478.8 340.4,478.8" fill="#111"/>
<polygon points="362.1,483.1 365.1,477.7 359.1,477.7" fill="#111"/>
<polygon points="380.8,474.1 383.8,468.7 377.8,468.7" fill="#111"/>
<polygon points="399.4,463.4 402.4,458.0 396.4,458.0" fill="#111"/>
<polygon points="418.1,441.5 421.1,436.1 415.1,436.1" fill="#111"/>
<polygon points="436.8,436.0 439.8,430.6 433.8,430.6" fill="#111"/>
<polygon points="455.5,440.2 458.5,434.8 452.5,434.8" fill="#111"/>
<polygon points="474.0,459.2 477.0,453.8 471.0,453.8" fill="#111"/>
<circle cx="306.6" cy="484.0" r="2.7" fill="#111"/>
<circle cx="324.7" cy="484.0" r="2.7" fill="#111"/>
<circle cx="343.4" cy="481.2" r="2.7" fill="#111"/>
<circle cx="362.1" cy="480.1" r="2.7" fill="#111"/>
<circle cx="380.8" cy="471.1" r="2.7" fill="#111"/>
<circle cx="399.4" cy="460.4" r="2.7" fill="#111"/>
<circle cx="418.1" cy="437.5" r="2.7" fill="#111"/>
<circle cx="436.8" cy="387.9" r="2.7" fill="#111"/>
<rect x="303.7" y="481.1" width="5.8" height="5.8" fill="#111"/>
<rect x="321.8" y="481.1" width="5.8" height="5.8" fill="#111"/>
<rect x="340.5" y="478.3" width="5.8" height="5.8" fill="#111"/>
<rect x="359.2" y="477.2" width="5.8" height="5.8" fill="#111"/>
<rect x="377.9" y="468.2" width="5.8" height="5.8" fill="#111"/>
<rect x="396.5" y="457.5" width="5.8" height="6.9" fill="#111"/>
<rect x="415.2" y="434.6" width="5.8" height="8.3" fill="#111"/>
<path d="M438.5,378.0 V373.0 Q438.5,371.8 439.7,371.8 H473.4 Q474.6,371.8 474.6,373.0 V378.0" fill="none" stroke="#111" stroke-width="1.7"/>
<path d="M453.60,365.40 L453.60,362.65 M453.60,365.40 L456.22,364.55 M453.60,365.40 L455.22,367.62 M453.60,365.40 L451.98,367.62 M453.60,365.40 L450.98,364.55 " stroke="#6e6e6e" stroke-width="1.25" fill="none" stroke-linecap="round"/>
<path d="M460.00,365.40 L460.00,362.65 M460.00,365.40 L462.62,364.55 M460.00,365.40 L461.62,367.62 M460.00,365.40 L458.38,367.62 M460.00,365.40 L457.38,364.55 " stroke="#6e6e6e" stroke-width="1.25" fill="none" stroke-linecap="round"/>
<path d="M479.4,456.1 H485.6 Q486.8,456.1 486.8,457.3 V476.5 Q486.8,477.7 485.6,477.7 H479.4" fill="none" stroke="#111" stroke-width="1.7"/>
<path d="M498.2,456.1 H504.0 Q505.2,456.1 505.2,457.3 V483.5 Q505.2,484.7 504.0,484.7 H498.2" fill="none" stroke="#111" stroke-width="1.7"/>
<path d="M492.50,467.30 L492.50,464.55 M492.50,467.30 L495.12,466.45 M492.50,467.30 L494.12,469.52 M492.50,467.30 L490.88,469.52 M492.50,467.30 L489.88,466.45 " stroke="#6e6e6e" stroke-width="1.25" fill="none" stroke-linecap="round"/>
<path d="M498.70,467.30 L498.70,464.55 M498.70,467.30 L501.32,466.45 M498.70,467.30 L500.32,469.52 M498.70,467.30 L497.08,469.52 M498.70,467.30 L496.08,466.45 " stroke="#6e6e6e" stroke-width="1.25" fill="none" stroke-linecap="round"/>
<path d="M509.80,467.30 L509.80,464.55 M509.80,467.30 L512.42,466.45 M509.80,467.30 L511.42,469.52 M509.80,467.30 L508.18,469.52 M509.80,467.30 L507.18,466.45 " stroke="#6e6e6e" stroke-width="1.25" fill="none" stroke-linecap="round"/>
<path d="M515.80,467.30 L515.80,464.55 M515.80,467.30 L518.42,466.45 M515.80,467.30 L517.42,469.52 M515.80,467.30 L514.18,469.52 M515.80,467.30 L513.18,466.45 " stroke="#6e6e6e" stroke-width="1.25" fill="none" stroke-linecap="round"/>
<line x1="290.2" y1="378.8" x2="300.8" y2="378.8" stroke="#111" stroke-width="1.4"/>
<circle cx="295.4" cy="378.8" r="2.7" fill="#111"/>
<text transform="translate(306.90 379.40)" font-size="7.2" font-weight="bold" fill="#000" stroke="#000" stroke-width="0.05">Vec</text>
<text transform="translate(320.00 382.70)" font-size="9.6" font-weight="bold" fill="#000" stroke="#000" stroke-width="0.15">ARP-1+PBS</text>
<line x1="290.2" y1="387.92" x2="300.8" y2="387.92" stroke="#111" stroke-width="1.4"/>
<polygon points="295.4,385.2 298.4,390.6 292.4,390.6" fill="#fff" stroke="#111" stroke-width="1.6" stroke-linejoin="miter"/>
<text transform="translate(306.90 388.52)" font-size="7.2" font-weight="bold" fill="#000" stroke="#000" stroke-width="0.05">Vec</text>
<text transform="translate(320.00 391.82)" font-size="9.6" font-weight="bold" fill="#000" stroke="#000" stroke-width="0.15">ARP-1+Mel</text>
<line x1="290.2" y1="397.04" x2="300.8" y2="397.04" stroke="#111" stroke-width="1.4"/>
<polygon points="295.4,400.3 298.4,395.0 292.4,395.0" fill="#111"/>
<text transform="translate(306.90 397.64)" font-size="7.2" font-weight="bold" fill="#000" stroke="#000" stroke-width="0.05">Vec</text>
<text transform="translate(320.00 400.94)" font-size="9.6" font-weight="bold" fill="#000" stroke="#000" stroke-width="0.15">ARP-1+Mel+ctl IgG</text>
<line x1="290.2" y1="406.16" x2="300.8" y2="406.16" stroke="#111" stroke-width="1.4"/>
<rect x="293.5" y="404.3" width="3.8" height="3.8" fill="#fff" stroke="#111" stroke-width="1.6"/>
<text transform="translate(306.90 406.76)" font-size="7.2" font-weight="bold" fill="#000" stroke="#000" stroke-width="0.05">Vec</text>
<text transform="translate(320.00 410.06)" font-size="9.6" font-weight="bold" fill="#000" stroke="#000" stroke-width="0.15">ARP-1+Mel+aSHH</text>
<line x1="290.2" y1="415.28000000000003" x2="300.8" y2="415.28000000000003" stroke="#737373" stroke-width="1.4"/>
<circle cx="295.4" cy="415.3" r="1.9999999999999998" fill="#b5b5b5" stroke="#737373" stroke-width="1.6"/>
<text transform="translate(306.90 416.28)" font-size="7.2" font-weight="bold" fill="#000" stroke="#000" stroke-width="0.05">SHH<tspan font-size="6.5">-</tspan></text>
<text transform="translate(323.80 419.48)" font-size="9.6" font-weight="bold" fill="#000" stroke="#000" stroke-width="0.15">ARP1+PBS</text>
<line x1="290.2" y1="424.4" x2="300.8" y2="424.4" stroke="#737373" stroke-width="1.4"/>
<polygon points="295.4,421.6 298.5,427.2 292.3,427.2" fill="none" stroke="#737373" stroke-width="1.6" stroke-linejoin="miter"/>
<text transform="translate(306.90 425.40)" font-size="7.2" font-weight="bold" fill="#000" stroke="#000" stroke-width="0.05">SHH<tspan font-size="6.5">-</tspan></text>
<text transform="translate(323.80 428.60)" font-size="9.6" font-weight="bold" fill="#000" stroke="#000" stroke-width="0.15">ARP1+Mel</text>
<line x1="290.2" y1="433.52" x2="300.8" y2="433.52" stroke="#737373" stroke-width="1.4"/>
<polygon points="295.4,436.9 298.5,431.4 292.3,431.4" fill="none" stroke="#737373" stroke-width="1.6" stroke-linejoin="miter"/>
<text transform="translate(306.90 434.52)" font-size="7.2" font-weight="bold" fill="#000" stroke="#000" stroke-width="0.05">SHH<tspan font-size="6.5">-</tspan></text>
<text transform="translate(323.80 437.72)" font-size="9.6" font-weight="bold" fill="#000" stroke="#000" stroke-width="0.15">ARP1+Mel+ctl IgG</text>
<line x1="290.2" y1="442.64" x2="300.8" y2="442.64" stroke="#737373" stroke-width="1.4"/>
<rect x="293.4" y="440.6" width="4.0" height="4.0" fill="none" stroke="#737373" stroke-width="1.6"/>
<text transform="translate(306.90 443.64)" font-size="7.2" font-weight="bold" fill="#000" stroke="#000" stroke-width="0.05">SHH<tspan font-size="6.5">-</tspan></text>
<text transform="translate(323.80 446.84)" font-size="9.6" font-weight="bold" fill="#000" stroke="#000" stroke-width="0.15">ARP1+Mel+aSHH</text>
</svg>
</body></html>
